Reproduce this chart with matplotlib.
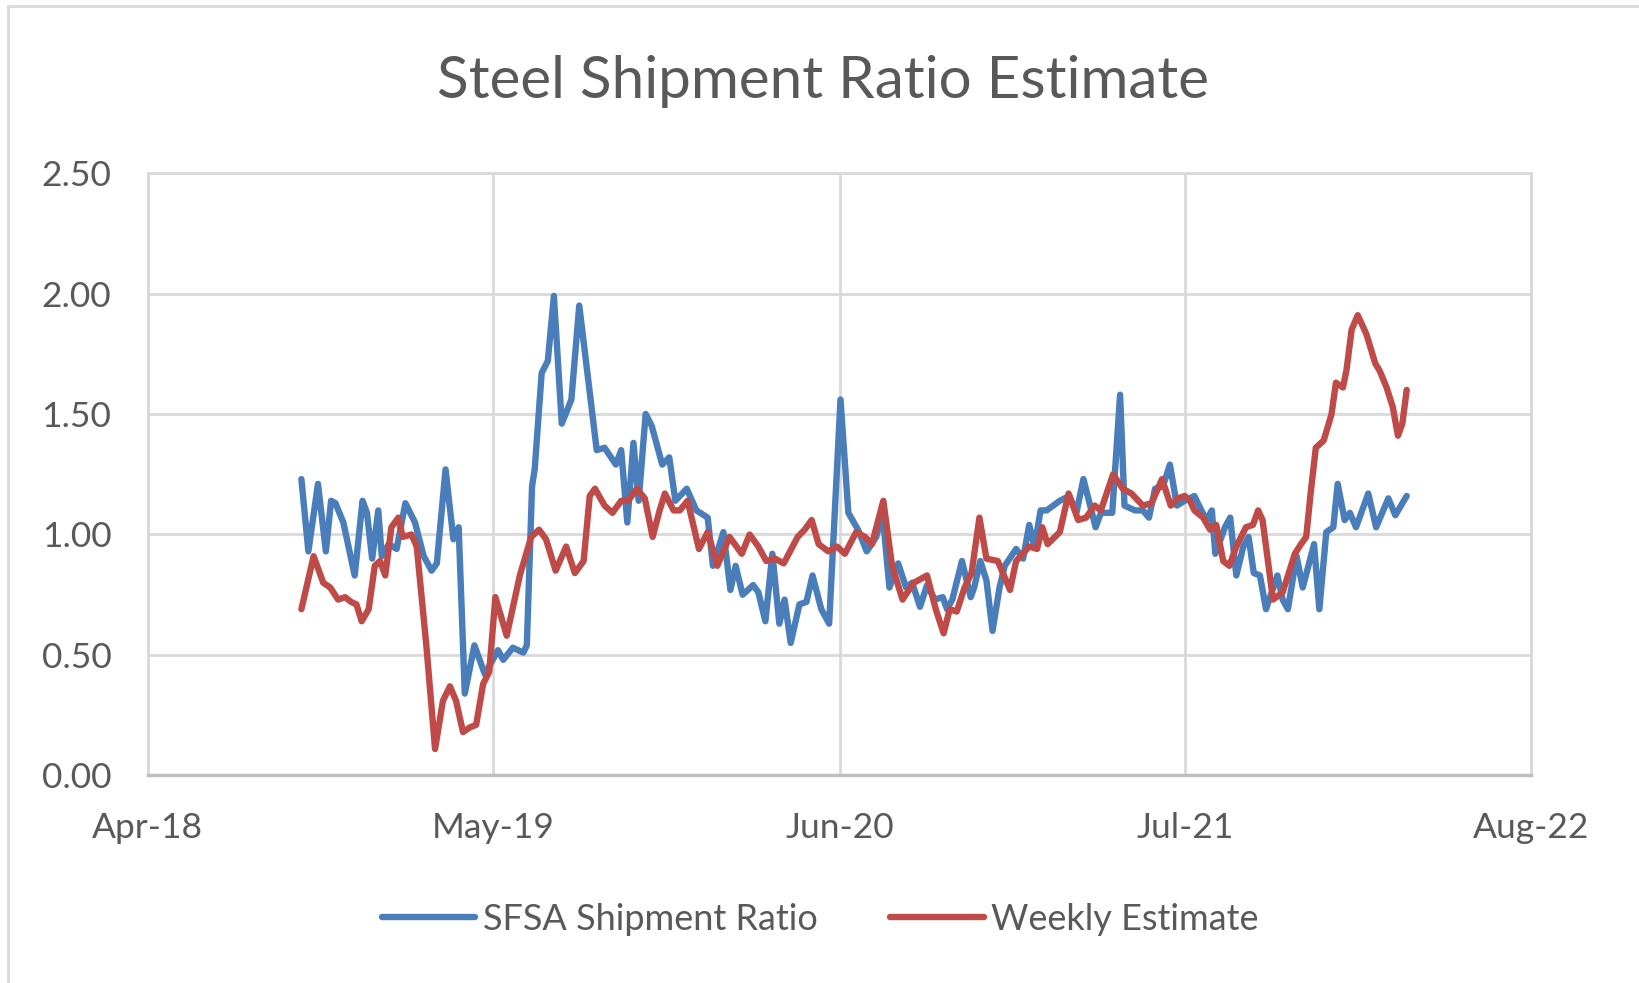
import matplotlib
matplotlib.use("Agg")
import matplotlib.pyplot as plt
import matplotlib.dates as mdates
from matplotlib.patches import Rectangle
from matplotlib.ticker import FuncFormatter
import pandas as pd

# SFSA shipment ratio
blue_dates = ["2018-09-24", "2018-10-02", "2018-10-13", "2018-10-22", "2018-10-28", "2018-11-02",
              "2018-11-11", "2018-11-24", "2018-12-03", "2018-12-08", "2018-12-14", "2018-12-21",
              "2018-12-25", "2019-01-02", "2019-01-11", "2019-01-21", "2019-02-01", "2019-02-11",
              "2019-02-20", "2019-02-26", "2019-03-08", "2019-03-17", "2019-03-23", "2019-03-30",
              "2019-04-10", "2019-04-22", "2019-05-07", "2019-05-13", "2019-05-24", "2019-06-05",
              "2019-06-09", "2019-06-15", "2019-06-18", "2019-06-26", "2019-07-03", "2019-07-10",
              "2019-07-19", "2019-07-30", "2019-08-08", "2019-08-22", "2019-08-28", "2019-09-06",
              "2019-09-19", "2019-09-25", "2019-10-02", "2019-10-09", "2019-10-15", "2019-10-23",
              "2019-10-30", "2019-11-11", "2019-11-19", "2019-11-26", "2019-12-09", "2019-12-20",
              "2020-01-02", "2020-01-08", "2020-01-20", "2020-01-28", "2020-02-03", "2020-02-11",
              "2020-02-23", "2020-02-29", "2020-03-08", "2020-03-16", "2020-03-24", "2020-03-30",
              "2020-04-06", "2020-04-16", "2020-04-24", "2020-05-01", "2020-05-11", "2020-05-20",
              "2020-06-02", "2020-06-11", "2020-06-22", "2020-07-02", "2020-07-13", "2020-07-20",
              "2020-07-28", "2020-08-07", "2020-08-16", "2020-08-23", "2020-09-01", "2020-09-09",
              "2020-09-18", "2020-09-27", "2020-10-02", "2020-10-08", "2020-10-19", "2020-10-29",
              "2020-11-02", "2020-11-09", "2020-11-16", "2020-11-23", "2020-12-01", "2020-12-07",
              "2020-12-20", "2020-12-28", "2021-01-04", "2021-01-10", "2021-01-17", "2021-01-24",
              "2021-02-08", "2021-02-19", "2021-02-27", "2021-03-07", "2021-03-21", "2021-03-27",
              "2021-04-09", "2021-04-18", "2021-04-23", "2021-05-05", "2021-05-14", "2021-05-21",
              "2021-05-28", "2021-06-06", "2021-06-14", "2021-06-22", "2021-07-01", "2021-07-12",
              "2021-07-20", "2021-07-26", "2021-08-01", "2021-08-05", "2021-08-16", "2021-08-22",
              "2021-08-29", "2021-09-06", "2021-09-12", "2021-09-18", "2021-09-25", "2021-10-02",
              "2021-10-15", "2021-10-21", "2021-10-27", "2021-11-06", "2021-11-13", "2021-11-26",
              "2021-12-02", "2021-12-10", "2021-12-18", "2021-12-23", "2021-12-31", "2022-01-06",
              "2022-01-13", "2022-01-27", "2022-02-05", "2022-02-19", "2022-02-27", "2022-03-12"]
blue_vals = [1.23, 0.93, 1.21, 0.93, 1.14, 1.13,
             1.05, 0.83, 1.14, 1.09, 0.90, 1.10,
             0.91, 0.96, 0.94, 1.13, 1.05, 0.91,
             0.85, 0.88, 1.27, 0.98, 1.03, 0.34,
             0.54, 0.42, 0.52, 0.48, 0.53, 0.51,
             0.54, 1.20, 1.27, 1.67, 1.72, 1.99,
             1.46, 1.56, 1.95, 1.53, 1.35, 1.36,
             1.29, 1.35, 1.05, 1.38, 1.14, 1.50,
             1.45, 1.29, 1.32, 1.14, 1.19, 1.10,
             1.07, 0.87, 1.01, 0.77, 0.87, 0.75,
             0.79, 0.76, 0.64, 0.92, 0.63, 0.73,
             0.55, 0.71, 0.72, 0.83, 0.69, 0.63,
             1.56, 1.09, 1.02, 0.93, 0.99, 1.09,
             0.78, 0.88, 0.78, 0.80, 0.70, 0.79,
             0.73, 0.74, 0.69, 0.73, 0.89, 0.74,
             0.78, 0.89, 0.81, 0.60, 0.78, 0.87,
             0.94, 0.90, 1.04, 0.95, 1.10, 1.10,
             1.14, 1.16, 1.09, 1.23, 1.03, 1.09,
             1.09, 1.58, 1.12, 1.10, 1.10, 1.07,
             1.19, 1.20, 1.29, 1.12, 1.14, 1.16,
             1.10, 1.06, 1.10, 0.92, 1.03, 1.07,
             0.83, 0.95, 0.99, 0.84, 0.83, 0.69,
             0.83, 0.73, 0.69, 0.91, 0.78, 0.96,
             0.69, 1.01, 1.03, 1.21, 1.06, 1.09,
             1.03, 1.17, 1.03, 1.15, 1.08, 1.16]

# weekly estimate
red_dates = ["2018-09-24", "2018-10-08", "2018-10-19", "2018-10-27", "2018-11-05", "2018-11-13",
             "2018-11-20", "2018-11-26", "2018-12-02", "2018-12-10", "2018-12-17", "2018-12-23",
             "2018-12-29", "2019-01-05", "2019-01-13", "2019-01-18", "2019-01-28", "2019-02-03",
             "2019-02-14", "2019-02-24", "2019-03-05", "2019-03-13", "2019-03-20", "2019-03-28",
             "2019-04-05", "2019-04-12", "2019-04-20", "2019-04-27", "2019-05-04", "2019-05-17",
             "2019-06-01", "2019-06-14", "2019-06-23", "2019-07-01", "2019-07-12", "2019-07-24",
             "2019-08-03", "2019-08-13", "2019-08-20", "2019-08-26", "2019-09-06", "2019-09-15",
             "2019-09-25", "2019-10-03", "2019-10-13", "2019-10-22", "2019-10-31", "2019-11-08",
             "2019-11-14", "2019-11-24", "2019-12-01", "2019-12-10", "2019-12-23", "2020-01-02",
             "2020-01-13", "2020-01-27", "2020-02-10", "2020-02-19", "2020-02-29", "2020-03-09",
             "2020-03-19", "2020-03-29", "2020-04-14", "2020-04-22", "2020-04-30", "2020-05-08",
             "2020-05-19", "2020-05-29", "2020-06-07", "2020-06-20", "2020-06-30", "2020-07-08",
             "2020-07-21", "2020-07-31", "2020-08-12", "2020-08-25", "2020-09-09", "2020-09-19",
             "2020-09-28", "2020-10-05", "2020-10-13", "2020-10-22", "2020-10-30", "2020-11-08",
             "2020-11-16", "2020-11-29", "2020-12-13", "2020-12-20", "2021-01-04", "2021-01-13",
             "2021-01-19", "2021-01-25", "2021-02-08", "2021-02-18", "2021-03-01", "2021-03-10",
             "2021-03-20", "2021-03-27", "2021-04-10", "2021-04-21", "2021-05-01", "2021-05-14",
             "2021-05-24", "2021-06-05", "2021-06-15", "2021-06-23", "2021-07-01", "2021-07-07",
             "2021-07-12", "2021-07-22", "2021-07-30", "2021-08-06", "2021-08-14", "2021-08-21",
             "2021-08-29", "2021-09-09", "2021-09-17", "2021-09-23", "2021-09-28", "2021-10-10",
             "2021-10-21", "2021-11-04", "2021-11-11", "2021-11-17", "2021-11-22", "2021-11-28",
             "2021-12-07", "2021-12-16", "2021-12-21", "2021-12-29", "2022-01-02", "2022-01-08",
             "2022-01-15", "2022-01-25", "2022-02-04", "2022-02-09", "2022-02-17", "2022-02-24",
             "2022-03-02", "2022-03-07", "2022-03-12"]
red_vals = [0.69, 0.91, 0.80, 0.78, 0.73, 0.74,
            0.72, 0.71, 0.64, 0.69, 0.87, 0.89,
            0.83, 1.03, 1.07, 0.99, 1.00, 0.95,
            0.54, 0.11, 0.31, 0.37, 0.31, 0.18,
            0.20, 0.21, 0.38, 0.43, 0.74, 0.58,
            0.83, 0.99, 1.02, 0.98, 0.85, 0.95,
            0.84, 0.89, 1.16, 1.19, 1.12, 1.09,
            1.14, 1.14, 1.19, 1.15, 0.99, 1.10,
            1.17, 1.10, 1.10, 1.14, 0.94, 1.01,
            0.87, 0.99, 0.92, 1.00, 0.95, 0.89,
            0.90, 0.88, 0.99, 1.02, 1.06, 0.96,
            0.93, 0.95, 0.92, 1.01, 0.99, 0.96,
            1.14, 0.87, 0.73, 0.80, 0.83, 0.69,
            0.59, 0.69, 0.68, 0.78, 0.84, 1.07,
            0.90, 0.89, 0.77, 0.89, 0.95, 0.94,
            1.03, 0.96, 1.01, 1.17, 1.06, 1.07,
            1.12, 1.10, 1.25, 1.19, 1.17, 1.12,
            1.13, 1.23, 1.12, 1.15, 1.16, 1.14,
            1.10, 1.07, 1.02, 1.04, 0.89, 0.87,
            0.95, 1.03, 1.04, 1.10, 1.06, 0.73,
            0.76, 0.92, 0.96, 0.99, 1.17, 1.36,
            1.39, 1.50, 1.63, 1.61, 1.68, 1.85,
            1.91, 1.83, 1.71, 1.68, 1.61, 1.53,
            1.41, 1.46, 1.60]

tick_dates = ["2018-04-01", "2019-05-01", "2020-06-01", "2021-07-01", "2022-08-01"]
y_ticks = [0.0, 0.5, 1.0, 1.5, 2.0, 2.5]

blue_c = "#4a7ebb"
red_c = "#be4b48"
grid_c = "#d9d9d9"
text_c = "#595959"

plt.rcParams["font.family"] = ["Lato", "DejaVu Sans"]

fig = plt.figure(figsize=(16.4, 9.83), dpi=100)
ax = fig.add_axes([0.090, 0.2111, 0.8434, 0.6129])

ax.plot(pd.to_datetime(blue_dates), blue_vals, color=blue_c, lw=4.6,
        solid_joinstyle="round", solid_capstyle="round", label="SFSA Shipment Ratio", zorder=3)
ax.plot(pd.to_datetime(red_dates), red_vals, color=red_c, lw=4.6,
        solid_joinstyle="round", solid_capstyle="round", label="Weekly Estimate", zorder=4)

ticks = pd.to_datetime(tick_dates)
ax.set_xlim(ticks[0], ticks[-1])
ax.set_xticks(ticks)
ax.xaxis.set_major_formatter(mdates.DateFormatter("%b-%y"))
ax.set_ylim(0, 2.5)
ax.set_yticks(y_ticks)
ax.yaxis.set_major_formatter(FuncFormatter(lambda v, p: f"{v:.2f}"))

ax.grid(True, color=grid_c, lw=2, zorder=0)
ax.set_axisbelow(True)
for side in ["left", "top", "right"]:
    ax.spines[side].set_color(grid_c)
    ax.spines[side].set_linewidth(2)
ax.spines["bottom"].set_color("#bfbfbf")
ax.spines["bottom"].set_linewidth(2.5)

ax.tick_params(axis="both", length=0, labelsize=25.5, colors=text_c)
ax.tick_params(axis="y", pad=26)
ax.tick_params(axis="x", pad=26)

fig.text(0.502, 0.917, "Steel Shipment Ratio Estimate", ha="center", va="center",
         fontsize=42, color=text_c)

leg = fig.legend(loc="center", bbox_to_anchor=(0.5, 0.065), ncol=2, frameon=False,
                 fontsize=26, handlelength=2.6, handletextpad=0.2, columnspacing=2.0)
for t in leg.get_texts():
    t.set_color(text_c)
for h in leg.legend_handles:
    h.set_linewidth(4.6)

# chart border (partly cropped in the original)
fig.patches.append(Rectangle((8 / 1640, -0.1), 1.2, 1.1 - 6 / 983, transform=fig.transFigure,
                             fill=False, edgecolor=grid_c, lw=2))

fig.savefig("out.png", dpi=100)
